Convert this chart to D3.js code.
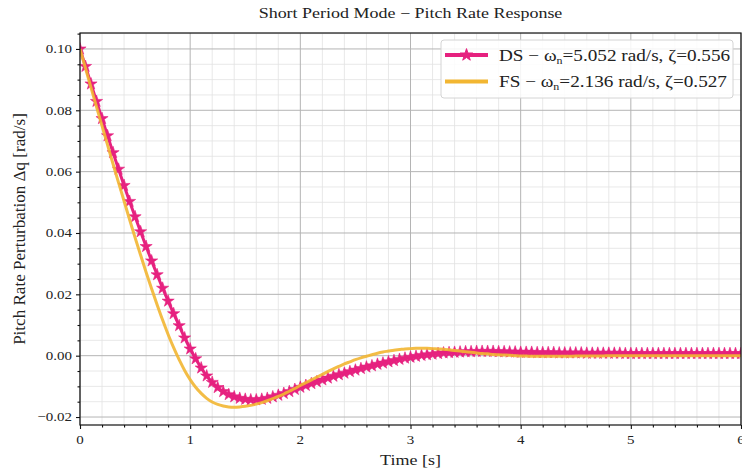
<!DOCTYPE html>
<html>
<head>
<meta charset="utf-8">
<script src="https://cdn.jsdelivr.net/npm/d3@7"></script>
<style>
  body { margin: 0; background: #fff; }
  svg { display: block; font-family: "Liberation Serif", "DejaVu Serif", serif; }
</style>
</head>
<body>
<svg id="chart" width="742" height="469"></svg>
<script>
'use strict';

// time grid of the simulation, 0.05 s step
var time = d3.range(121).map(function (i) { return Math.round(i * 5) / 100; });

// pitch rate response, DS
var dsRate = [
    0.1000, 0.0943, 0.0886, 0.0829, 0.0773, 0.0717, 0.0662, 0.0608, 0.0555, 0.0503,
    0.0453, 0.0404, 0.0356, 0.0309, 0.0264, 0.0220, 0.0178, 0.0137, 0.0098, 0.0058,
    0.0022, -0.0010, -0.0040, -0.0066, -0.0087, -0.0104, -0.0117, -0.0127, -0.0134, -0.0139,
    -0.0142, -0.0144, -0.0144, -0.0142, -0.0139, -0.0134, -0.0129, -0.0123, -0.0117, -0.0110,
    -0.0103, -0.0097, -0.0091, -0.0085, -0.0079, -0.0073, -0.0067, -0.0062, -0.0057, -0.0052,
    -0.0047, -0.0042, -0.0037, -0.0033, -0.0028, -0.0024, -0.0020, -0.0016, -0.0012, -0.0008,
    -0.0005, -0.0002, 0.0001, 0.0003, 0.0005, 0.0007, 0.0009, 0.0010, 0.0011, 0.0012,
    0.0013, 0.0013, 0.0014, 0.0014, 0.0014, 0.0014, 0.0013, 0.0013, 0.0012, 0.0012,
    0.0011, 0.0011, 0.0011, 0.0010, 0.0010, 0.0010, 0.0010, 0.0009, 0.0009, 0.0009,
    0.0009, 0.0009, 0.0008, 0.0008, 0.0008, 0.0008, 0.0008, 0.0008, 0.0008, 0.0007,
    0.0007, 0.0007, 0.0007, 0.0007, 0.0007, 0.0007, 0.0007, 0.0007, 0.0007, 0.0007,
    0.0007, 0.0007, 0.0007, 0.0007, 0.0007, 0.0007, 0.0007, 0.0007, 0.0007, 0.0007,
    0.0007
];

// pitch rate response, FS
var fsRate = [
    0.1000, 0.0937, 0.0874, 0.0811, 0.0749, 0.0687, 0.0625, 0.0564, 0.0504, 0.0444,
    0.0385, 0.0328, 0.0272, 0.0218, 0.0166, 0.0116, 0.0069, 0.0026, -0.0013, -0.0048,
    -0.0078, -0.0103, -0.0123, -0.0139, -0.0151, -0.0159, -0.0164, -0.0167, -0.0168, -0.0167,
    -0.0165, -0.0162, -0.0158, -0.0153, -0.0147, -0.0140, -0.0133, -0.0125, -0.0116, -0.0107,
    -0.0097, -0.0088, -0.0079, -0.0070, -0.0061, -0.0052, -0.0043, -0.0035, -0.0027, -0.0020,
    -0.0013, -0.0007, -0.0002, 0.0003, 0.0008, 0.0012, 0.0015, 0.0018, 0.0020, 0.0022,
    0.0023, 0.0024, 0.0024, 0.0024, 0.0023, 0.0022, 0.0021, 0.0019, 0.0017, 0.0015,
    0.0013, 0.0011, 0.0009, 0.0007, 0.0006, 0.0004, 0.0003, 0.0002, 0.0001, 0.0000,
    -0.0001, -0.0001, -0.0002, -0.0002, -0.0002, -0.0002, -0.0002, -0.0002, -0.0002, -0.0002,
    -0.0001, -0.0001, -0.0001, -0.0001, -0.0001, -0.0001, 0.0000, 0.0000, 0.0000, 0.0000,
    0.0000, 0.0000, 0.0000, 0.0000, 0.0000, 0.0000, 0.0000, 0.0000, 0.0000, 0.0000,
    0.0000, 0.0000, 0.0000, 0.0000, 0.0000, 0.0000, 0.0000, 0.0000, 0.0000, 0.0000,
    0.0000
];

var seriesNames = ['DS', 'FS'];
var seriesFreq = ['5.052', '2.136'];
var seriesDamp = ['0.556', '0.527'];

var xTicks = [0, 1, 2, 3, 4, 5, 6];
var yTicks = [-0.02, 0.00, 0.02, 0.04, 0.06, 0.08, 0.10];

var colors = { ds: '#e6217f', fs: '#f2b632' };
var stretch = 1.2;

var svg = d3.select('#chart');
var plot = { left: 80, right: 741, top: 33, bottom: 425 };

var x = d3.scaleLinear().domain([0, 6]).range([plot.left, plot.right]);
var y = d3.scaleLinear().domain([-0.0226, 0.1052]).range([plot.bottom, plot.top]);

var xMinor = d3.range(0, 6.0001, 0.2).filter(function (d) { return Math.abs(d - Math.round(d)) > 1e-6; });
var yMinor = d3.range(-0.02, 0.1051, 0.005).filter(function (d) {
    return Math.abs(d / 0.02 - Math.round(d / 0.02)) > 1e-6;
});

// text helper, the picture is a bit wider than tall
function label(g, px, py, str, anchor, size, sx) {
    return g.append('text')
        .attr('transform', 'translate(' + px + ',' + py + ') scale(' + (sx || stretch) + ',1)')
        .attr('text-anchor', anchor)
        .attr('font-size', size)
        .attr('fill', '#222')
        .text(str);
}

// grid
var grid = svg.append('g');
grid.selectAll('.vminor').data(xMinor).enter().append('line')
    .attr('x1', function (d) { return x(d); }).attr('x2', function (d) { return x(d); })
    .attr('y1', plot.top).attr('y2', plot.bottom)
    .attr('stroke', '#e2e2e2').attr('stroke-width', 0.8);
grid.selectAll('.hminor').data(yMinor).enter().append('line')
    .attr('x1', plot.left).attr('x2', plot.right)
    .attr('y1', function (d) { return y(d); }).attr('y2', function (d) { return y(d); })
    .attr('stroke', '#e2e2e2').attr('stroke-width', 0.8);
grid.selectAll('.vmajor').data(xTicks).enter().append('line')
    .attr('x1', function (d) { return x(d); }).attr('x2', function (d) { return x(d); })
    .attr('y1', plot.top).attr('y2', plot.bottom)
    .attr('stroke', '#b4b4b4').attr('stroke-width', 1);
grid.selectAll('.hmajor').data(yTicks).enter().append('line')
    .attr('x1', plot.left).attr('x2', plot.right)
    .attr('y1', function (d) { return y(d); }).attr('y2', function (d) { return y(d); })
    .attr('stroke', '#b4b4b4').attr('stroke-width', 1);

// series
svg.append('clipPath').attr('id', 'clip').append('rect')
    .attr('x', plot.left).attr('y', plot.top)
    .attr('width', plot.right - plot.left).attr('height', plot.bottom - plot.top);

var area = svg.append('g').attr('clip-path', 'url(#clip)');

var dsPoints = time.map(function (t, i) { return [t, dsRate[i]]; });
var fsPoints = time.map(function (t, i) { return [t, fsRate[i]]; });

var line = d3.line()
    .x(function (d) { return x(d[0]); })
    .y(function (d) { return y(d[1]); })
    .curve(d3.curveMonotoneX);

var star = d3.symbol().type(d3.symbolStar).size(46);

area.append('path')
    .attr('d', line(dsPoints))
    .attr('fill', 'none').attr('stroke', colors.ds).attr('stroke-width', 3);
area.selectAll('.star').data(dsPoints).enter().append('path')
    .attr('d', star)
    .attr('transform', function (d) { return 'translate(' + x(d[0]) + ',' + y(d[1]) + ')'; })
    .attr('fill', colors.ds).attr('stroke', colors.ds).attr('stroke-width', 0.6);
area.append('path')
    .attr('d', line(fsPoints))
    .attr('fill', 'none').attr('stroke', colors.fs).attr('stroke-width', 3)
    .attr('stroke-opacity', 0.9);

// spines
svg.append('rect')
    .attr('x', plot.left).attr('y', plot.top)
    .attr('width', plot.right - plot.left).attr('height', plot.bottom - plot.top)
    .attr('fill', 'none').attr('stroke', '#111').attr('stroke-width', 1.2);

// ticks
var axisG = svg.append('g');
axisG.append('g').attr('transform', 'translate(0,' + plot.bottom + ')')
    .call(d3.axisBottom(x).tickValues(xTicks).tickSize(4).tickFormat(''))
    .call(function (g) { g.select('.domain').remove(); });
axisG.append('g').attr('transform', 'translate(0,' + plot.bottom + ')')
    .call(d3.axisBottom(x).tickValues(xMinor).tickSize(2.5).tickFormat(''))
    .call(function (g) { g.select('.domain').remove(); });
axisG.append('g').attr('transform', 'translate(' + plot.left + ',0)')
    .call(d3.axisLeft(y).tickValues(yTicks).tickSize(4).tickFormat(''))
    .call(function (g) { g.select('.domain').remove(); });
axisG.append('g').attr('transform', 'translate(' + plot.left + ',0)')
    .call(d3.axisLeft(y).tickValues(yMinor).tickSize(2.5).tickFormat(''))
    .call(function (g) { g.select('.domain').remove(); });
axisG.selectAll('.tick line').attr('stroke', '#111').attr('stroke-width', 1.1);

var fmt = d3.format('.2f');
xTicks.forEach(function (d) { label(svg, x(d), 444, String(d), 'middle', 12.5); });
yTicks.forEach(function (d) { label(svg, 72, y(d) + 4.3, fmt(d), 'end', 12.5); });

// titles
label(svg, (plot.left + plot.right) / 2, 18, 'Short Period Mode \u2212 Pitch Rate Response', 'middle', 14.5, 1.24);
label(svg, (plot.left + plot.right) / 2, 465, 'Time [s]', 'middle', 15, 1.2);
svg.append('text')
    .attr('transform', 'translate(25,' + ((plot.top + plot.bottom) / 2) + ') rotate(-90) scale(1.22,1.12)')
    .attr('text-anchor', 'middle').attr('font-size', 14).attr('fill', '#222')
    .text('Pitch Rate Perturbation \u0394q [rad/s]');

// legend
var legend = svg.append('g');
legend.append('rect')
    .attr('x', 441).attr('y', 40).attr('width', 292).attr('height', 58).attr('rx', 3)
    .attr('fill', '#fff').attr('fill-opacity', 0.85)
    .attr('stroke', '#d4d4d4').attr('stroke-width', 1);

seriesNames.forEach(function (name, i) {
    var ry = 55 + i * 26.5;
    var c = i === 0 ? colors.ds : colors.fs;
    legend.append('line')
        .attr('x1', 445).attr('x2', 488).attr('y1', ry).attr('y2', ry)
        .attr('stroke', c).attr('stroke-width', 4);
    if (i === 0) {
        legend.append('path').attr('d', star)
            .attr('transform', 'translate(466.5,' + ry + ')')
            .attr('fill', c).attr('stroke', c);
    }
    var t = legend.append('text')
        .attr('transform', 'translate(499,' + (ry + 5.5) + ') scale(1.2,1)')
        .attr('font-size', 16).attr('fill', '#222');
    t.append('tspan').text(name + ' \u2212 \u03c9');
    t.append('tspan').attr('font-size', 10).attr('dy', 3).text('n');
    t.append('tspan').attr('dy', -3).text('=' + seriesFreq[i] + ' rad/s, \u03b6=' + seriesDamp[i]);
});
</script>
</body>
</html>
